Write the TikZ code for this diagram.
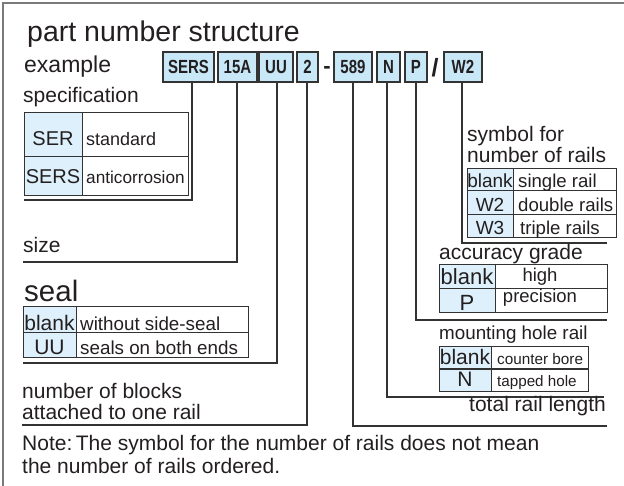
\documentclass[tikz,border=0pt]{standalone}
\usepackage{fontspec}
\setmainfont{Liberation Sans}
\newfontfamily\codefont{Liberation Sans}[FakeStretch=0.79]
\newcommand\fs[1]{\fontsize{#1}{#1}\selectfont}
\definecolor{txt}{HTML}{231F20}
\definecolor{codeblue}{HTML}{C8E8F8}
\definecolor{cellblue}{HTML}{DDF0FB}
\definecolor{lin}{HTML}{333333}
\definecolor{framec}{HTML}{7A7A7A}
\tikzset{
  lbl/.style={inner sep=0, anchor=base west, text=txt},
  rlbl/.style={inner sep=0, anchor=base east, text=txt},
  clbl/.style={inner sep=0, anchor=base, text=txt},
  code/.style={draw=lin, fill=codeblue, line width=1.3, inner sep=0, minimum height=30,
    text height=13.5, text depth=0, font=\codefont\bfseries\fs{19}, text=txt},
  sep/.style={inner sep=0, text=txt, font=\bfseries\fs{22}},
  tab/.style={draw=lin, line width=1},
  conn/.style={draw=lin, line width=1.2},
}
\begin{document}
\begin{tikzpicture}[x=1pt,y=-1pt]
\useasboundingbox (0,0) rectangle (624,486);
% frame
\draw[framec, line width=1.6] (3,486) -- (3,3) -- (624,3);

% titles
\node[lbl, font=\fs{28.5}] (title) at (27,42) {part number structure};
\node[lbl, font=\fs{23}] (example) at (24,73) {example};

% code boxes
\node[code, minimum width=51] (sers) at (188.5,67) {SERS};
\node[code, minimum width=39] (s15a) at (237.5,67) {15A};
\node[code, minimum width=34] (suu) at (276,67) {UU};
\node[code, minimum width=21] (s2) at (307.5,67) {2};
\node[sep] (dash) at (327,70) {-};
\node[code, minimum width=38] (s589) at (353,67) {589};
\node[code, minimum width=23] (sn) at (388.5,67) {N};
\node[code, minimum width=22] (sp) at (416,67) {P};
\node[sep, font=\bfseries\fs{25}] (slash) at (435,68) {/};
\node[code, minimum width=38] (sw2) at (463,67) {W2};

% specification
\node[lbl, font=\fs{21}] (spec) at (23,103) {specification};
\fill[cellblue] (24,113) rectangle (82,196);
\draw[tab] (24,113) rectangle (188,196);
\draw[tab] (82,113) -- (82,196);
\draw[tab] (24,157) -- (188,157);
\node[clbl, font=\fs{20}] (ser) at (53,146) {SER};
\node[clbl, font=\fs{20}] (sersv) at (53,184) {SERS};
\node[lbl, font=\fs{18}] (std) at (86,146) {standard};
\node[lbl, font=\fs{17.2}] (anti) at (86,184) {anticorrosion};
\coordinate (c1) at (192,200);
\coordinate (e1) at (24,200);
\draw[conn] (sers.south -| c1) -- (c1) -- (e1);

% size
\node[lbl, font=\fs{21}] (size) at (23,253) {size};
\coordinate (c2) at (237,262);
\coordinate (e2) at (23,262);
\draw[conn] (s15a.south -| c2) -- (c2) -- (e2);

% seal
\node[lbl, font=\fs{29.5}] (seal) at (24,302) {seal};
\fill[cellblue] (23,307) rectangle (76,358);
\draw[tab] (23,307) rectangle (248,358);
\draw[tab] (76,307) -- (76,358);
\draw[tab] (23,333) -- (248,333);
\node[clbl, font=\fs{21}] (blank1) at (49.5,331) {blank};
\node[clbl, font=\fs{21}] (uu) at (49.5,355) {UU};
\node[lbl, font=\fs{18.8}] (wo) at (80,331) {without side-seal};
\node[lbl, font=\fs{18.8}] (both) at (80,355) {seals on both ends};
\coordinate (c3) at (277,363);
\coordinate (e3) at (23,363);
\draw[conn] (suu.south -| c3) -- (c3) -- (e3);

% number of blocks
\node[lbl, font=\fs{21}] (nb1) at (22,398) {number of blocks};
\node[lbl, font=\fs{21}] (nb2) at (22,419) {attached to one rail};
\coordinate (c4) at (307,425);
\coordinate (e4) at (22,425);
\draw[conn] (s2.south -| c4) -- (c4) -- (e4);

% note
\node[lbl, font=\fs{21}] (note1) at (22,450) {Note:\,The symbol for the number of rails does not mean};
\node[lbl, font=\fs{21}] (note2) at (22,473) {the number of rails ordered.};

% symbol for number of rails
\node[lbl, font=\fs{21}] (sym1) at (467,142) {symbol for};
\node[lbl, font=\fs{21}] (sym2) at (467,163) {number of rails};
\fill[cellblue] (467,169) rectangle (513,238);
\draw[tab] (467,169) rectangle (616,238);
\draw[tab] (513,169) -- (513,238);
\draw[tab] (467,191) -- (616,191);
\draw[tab] (467,215) -- (616,215);
\node[clbl, font=\fs{19}] (blank2) at (490,188) {blank};
\node[clbl, font=\fs{19}] (w2) at (490,212) {W2};
\node[clbl, font=\fs{19}] (w3) at (490,235) {W3};
\node[lbl, font=\fs{18.6}] (single) at (518,188) {single rail};
\node[lbl, font=\fs{18.6}] (double) at (518,212) {double rails};
\node[lbl, font=\fs{18.6}] (triple) at (520,235) {triple rails};
\coordinate (c5) at (462,243);
\coordinate (e5) at (607,243);
\draw[conn] (sw2.south -| c5) -- (c5) -- (e5);

% accuracy grade
\node[lbl, font=\fs{21}] (acc) at (439,260) {accuracy grade};
\fill[cellblue] (439,265) rectangle (495,313);
\draw[tab] (439,265) rectangle (607,313);
\draw[tab] (495,265) -- (495,313);
\draw[tab] (439,289) -- (607,289);
\node[clbl, font=\fs{22}] (blank3) at (467,285) {blank};
\node[clbl, font=\fs{22}] (pp) at (467,311) {P};
\node[clbl, font=\fs{18.5}] (high) at (540,282) {high};
\node[clbl, font=\fs{18.5}] (prec) at (540,303) {precision};
\coordinate (c6) at (416,320);
\coordinate (e6) at (607,320);
\draw[conn] (sp.south -| c6) -- (c6) -- (e6);

% mounting hole rail
\node[lbl, font=\fs{18.8}] (mount) at (439,340) {mounting hole rail};
\fill[cellblue] (439,347) rectangle (491,391);
\draw[tab] (439,347) rectangle (588,391);
\draw[tab] (491,347) -- (491,391);
\draw[tab] (439,369) -- (588,369);
\node[clbl, font=\fs{21}] (blank4) at (465,365) {blank};
\node[clbl, font=\fs{21}] (nn) at (465,386) {N};
\node[lbl, font=\fs{15.3}] (cb) at (497,365) {counter bore};
\node[lbl, font=\fs{15.2}] (th) at (497,386) {tapped hole};
\coordinate (c7) at (387,397);
\coordinate (e7) at (604,397);
\draw[conn] (sn.south -| c7) -- (c7) -- (e7);

% total rail length
\node[rlbl, font=\fs{21}] (total) at (606,411) {total rail length};
\coordinate (c8) at (353,426);
\coordinate (e8) at (607,426);
\draw[conn] (s589.south -| c8) -- (c8) -- (e8);
\end{tikzpicture}
\end{document}
